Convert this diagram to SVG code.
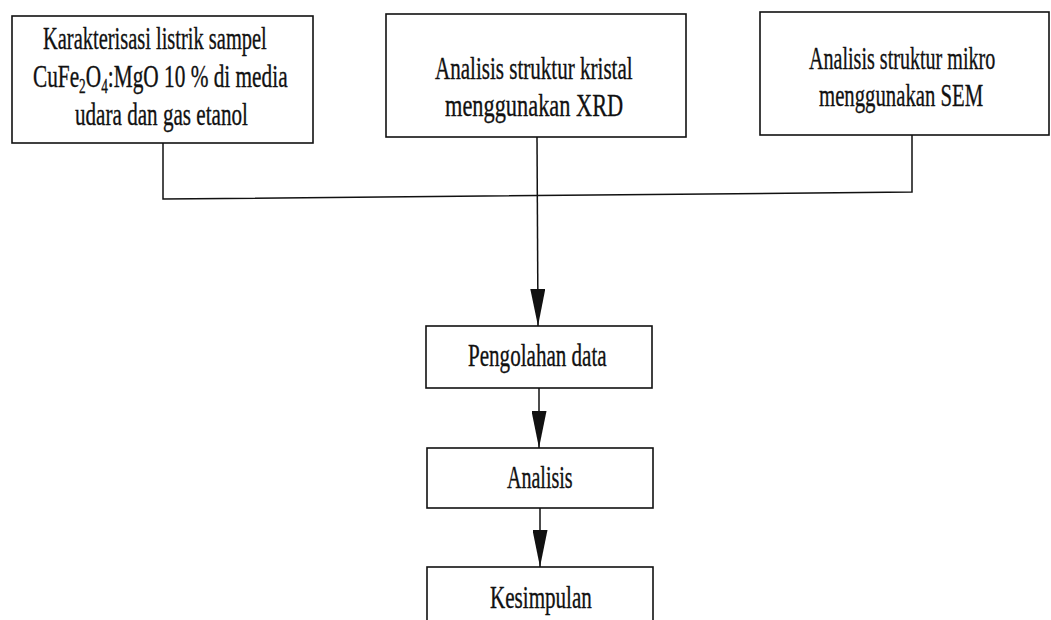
<svg xmlns="http://www.w3.org/2000/svg" width="1051" height="620" viewBox="0 0 1051 620">
  <style>
    .box { fill: #ffffff; stroke: #111111; stroke-width: 1.6; }
    .lbl { font-family: "Liberation Serif", "Times New Roman", serif; font-size: 32px; fill: #111111; stroke: #111111; stroke-width: 0.35; }
    .sub { font-size: 20px; }
    .wire { fill: none; stroke: #111111; stroke-width: 1.5; }
  </style>
  <defs>
    <marker id="dart" markerUnits="userSpaceOnUse" viewBox="0 0 38 15" markerWidth="38" markerHeight="15" refX="37" refY="7.5" orient="auto">
      <path d="M0,0 L37,7.5 L0,15 Z" fill="#111111"/>
    </marker>
  </defs>
  <rect width="1051" height="620" fill="#ffffff"/>

  <!-- connectors -->
  <g id="connectors">
    <polyline class="wire" points="163,143 163,199 912,192 912,135"/>
    <line class="wire" x1="537" y1="137" x2="538" y2="326" marker-end="url(#dart)"/>
    <line class="wire" x1="539" y1="388" x2="539" y2="448" marker-end="url(#dart)"/>
    <line class="wire" x1="540" y1="508" x2="540" y2="567" marker-end="url(#dart)"/>
  </g>

  <!-- top row; labels use a condensed serif (horizontal scale 0.67) -->
  <g id="node-karakterisasi">
    <rect class="box" x="12" y="16" width="301" height="127"/>
    <text class="lbl" transform="translate(43,49) scale(0.67,1)" textLength="334" lengthAdjust="spacingAndGlyphs">Karakterisasi listrik sampel</text>
    <text class="lbl" transform="translate(33,87) scale(0.67,1)" textLength="380" lengthAdjust="spacingAndGlyphs">CuFe<tspan class="sub" dy="6">2</tspan><tspan dy="-6">O</tspan><tspan class="sub" dy="6">4</tspan><tspan dy="-6">:MgO 10 % di media</tspan></text>
    <text class="lbl" transform="translate(75,125) scale(0.67,1)" textLength="258" lengthAdjust="spacingAndGlyphs">udara dan gas etanol</text>
  </g>
  <g id="node-xrd">
    <rect class="box" x="386" y="14" width="300" height="123"/>
    <text class="lbl" transform="translate(435,79) scale(0.67,1)" textLength="295" lengthAdjust="spacingAndGlyphs">Analisis struktur kristal</text>
    <text class="lbl" transform="translate(445,116) scale(0.67,1)" textLength="266" lengthAdjust="spacingAndGlyphs">menggunakan XRD</text>
  </g>
  <g id="node-sem">
    <rect class="box" x="760" y="12" width="289" height="123"/>
    <text class="lbl" transform="translate(809,69) scale(0.67,1)" textLength="278" lengthAdjust="spacingAndGlyphs">Analisis struktur mikro</text>
    <text class="lbl" transform="translate(819,106) scale(0.67,1)" textLength="245" lengthAdjust="spacingAndGlyphs">menggunakan SEM</text>
  </g>

  <!-- processing chain -->
  <g id="node-pengolahan">
    <rect class="box" x="426" y="326" width="226" height="62"/>
    <text class="lbl" transform="translate(468,366) scale(0.67,1)" textLength="207" lengthAdjust="spacingAndGlyphs">Pengolahan data</text>
  </g>
  <g id="node-analisis">
    <rect class="box" x="427" y="448" width="226" height="60"/>
    <text class="lbl" transform="translate(507,488) scale(0.67,1)" textLength="98" lengthAdjust="spacingAndGlyphs">Analisis</text>
  </g>
  <g id="node-kesimpulan">
    <rect class="box" x="427" y="567" width="226" height="60"/>
    <text class="lbl" transform="translate(490,608) scale(0.67,1)" textLength="152" lengthAdjust="spacingAndGlyphs">Kesimpulan</text>
  </g>
</svg>
